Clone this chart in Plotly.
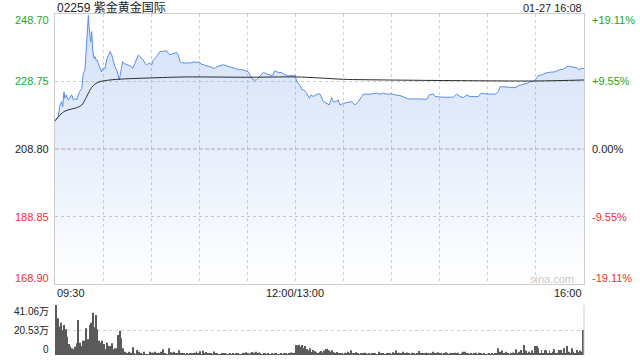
import plotly.graph_objects as go

# ---------------- data ----------------
title_text = "02259 紫金黄金国际"
stamp_text = "01-27 16:08"
price_ticks = [248.70, 228.75, 208.80, 188.85, 168.90]
price_tick_text = ["248.70", "228.75", "208.80", "188.85", "168.90"]
pct_tick_text = ["+19.11%", "+9.55%", "0.00%", "-9.55%", "-19.11%"]
tick_colors = ["#1ea51e", "#1ea51e", "#222222", "#f23030", "#f23030"]
time_labels = ["09:30", "12:00/13:00", "16:00"]
time_label_pos = [0, 150, 330]
vol_ticks = [41.06, 20.53, 0]
vol_tick_text = ["41.06万", "20.53万", "0"]

price_min = [
    0, 2.1, 3.1, 4.2, 4.8, 5.6, 6.2, 6.9, 8.3, 9.4,
    10.4, 11.4, 12.5, 13.5, 15.2, 16.7, 17.7, 18.7, 19.3, 20.1,
    20.8, 21.4, 22.3, 22.9, 23.5, 24.3, 25.0, 25.6, 26.4, 27.0,
    28.0, 29.0, 29.8, 31.2, 32.2, 33.3, 34.3, 35.4, 36.4, 37.4,
    38.5, 39.5, 40.1, 41.0, 41.6, 42.2, 43.0, 44.3, 45.7, 47.2,
    48.5, 49.9, 51.0, 52.0, 53.0, 54.1, 55.1, 56.1, 57.2, 58.2,
    59.3, 60.3, 61.3, 62.4, 63.4, 65.5, 67.6, 69.7, 70.7, 71.7,
    72.8, 73.8, 75.9, 76.9, 78.0, 79.0, 81.5, 85.3, 86.9, 88.4,
    89.8, 91.1, 93.6, 96.7, 99.4, 101.9, 105.0, 108.1, 111.2, 114.3,
    117.5, 120.6, 121.6, 122.7, 123.7, 125.8, 127.3, 130.0, 132.1, 134.1,
    135.6, 137.2, 139.3, 141.4, 143.5, 145.6, 147.7, 148.7, 149.7, 150.8,
    152.8, 153.9, 155.5, 157.0, 158.7, 159.7, 161.1, 162.6, 164.3, 165.3,
    167.4, 169.5, 171.1, 172.6, 173.6, 175.3, 176.7, 177.8, 179.9, 183.0,
    185.1, 187.1, 189.2, 191.3, 192.3, 196.5, 200.7, 202.7, 204.8, 206.9,
    210.0, 212.1, 215.2, 218.3, 220.4, 225.6, 231.9, 233.5, 236.0, 237.1,
    242.2, 248.5, 250.6, 252.6, 254.7, 256.8, 258.9, 264.1, 265.8, 268.2,
    274.5, 276.5, 277.6, 279.7, 282.8, 287.0, 289.0, 292.1, 294.3, 296.3,
    298.4, 300.5, 301.5, 303.6, 305.7, 308.8, 311.9, 314.0, 317.1, 320.2,
    322.4, 325.5, 326.9, 328.1, 330.0,
]
price_val = [
    217.1, 218.4, 221.8, 222.8, 221.3, 225.7, 223.8, 224.8, 223.3, 224.3,
    224.8, 223.3, 223.8, 223.3, 225.7, 226.7, 231.2, 232.2, 236.1, 244.0,
    248.3, 244.0, 240.5, 243.5, 238.1, 235.6, 236.1, 235.1, 235.1, 234.1,
    233.1, 231.6, 232.6, 232.6, 235.1, 236.6, 237.6, 236.6, 235.1, 233.1,
    232.2, 230.7, 229.2, 231.6, 233.6, 234.6, 234.1, 233.8, 233.6, 233.3,
    232.6, 234.1, 235.6, 236.6, 236.1, 235.6, 235.1, 234.1, 233.6, 234.1,
    234.1, 233.6, 235.1, 235.6, 236.1, 237.6, 237.6, 237.8, 237.1, 236.6,
    236.9, 237.1, 237.3, 236.6, 234.6, 234.3, 234.2, 234.3, 234.6, 234.3,
    234.6, 233.9, 233.6, 233.1, 232.6, 233.3, 233.7, 233.3, 232.9, 232.3,
    232.2, 231.6, 230.7, 229.7, 229.2, 229.2, 230.0, 231.5, 231.0, 230.7,
    230.4, 231.9, 231.4, 231.4, 230.7, 230.4, 230.6, 230.4, 230.7, 228.7,
    227.7, 226.4, 226.2, 225.3, 223.8, 224.8, 224.3, 224.8, 225.1, 225.0,
    222.8, 222.3, 221.8, 224.0, 222.7, 222.8, 223.3, 221.8, 222.3, 222.6,
    222.8, 221.8, 222.8, 224.3, 225.0, 225.0, 225.3, 225.0, 225.3, 225.0,
    225.1, 224.8, 224.6, 224.0, 223.6, 223.6, 223.5, 224.8, 225.0, 224.3,
    224.1, 224.1, 225.0, 224.3, 224.0, 224.8, 224.3, 224.3, 225.3, 225.1,
    225.0, 225.7, 227.2, 227.2, 227.0, 226.9, 227.5, 227.9, 228.2, 228.7,
    228.7, 229.7, 230.5, 230.7, 231.2, 231.5, 231.6, 232.1, 232.4, 233.3,
    233.1, 232.8, 232.1, 232.6, 232.6,
]

avg_min = [0, 3.1, 6.2, 9.4, 13.5, 16.7, 18.7, 20.8, 22.9, 25, 28, 34.3, 42.6,
           59.3, 82.2, 120, 150, 165, 180, 207, 253, 300, 330]
avg_val = [217.1, 218.9, 220.0, 220.5, 221.0, 221.8, 223.3, 225.3, 227.0, 228.0,
           228.7, 229.2, 229.5, 229.8, 230.1, 230.0, 230.1, 229.8, 229.4, 229.2,
           229.0, 228.9, 229.2]

# volume per minute, unit 万
volume = [
    41.06, 30.1, 23.3, 26.5, 20.5, 24.6, 21.1, 15.0, 9.0, 7.0,
    5.5, 4.7, 6.8, 9.6, 28.7, 10.1, 7.4, 11.7, 11.7, 21.9,
    12.9, 24.6, 26.5, 34.7, 22.7, 32.8, 21.1, 11.7, 10.1, 11.7,
    9.0, 4.7, 10.1, 7.4, 7.4, 9.6, 4.7, 5.5, 5.5, 16.4,
    20.0, 13.7, 5.5, 2.7, 1.9, 1.4,
    2.7, 1.9, 6.3, 1.0, 0.8, 4.1, 2.7, 1.0, 0.8, 2.7,
    0.8, 0.8, 0.8, 2.7, 1.9, 1.9, 2.7, 1.0, 1.9, 1.0,
    2.7, 4.7, 1.0, 0.8, 0.8, 5.5, 2.3, 1.9, 2.7, 1.2,
    1.2, 3.8, 1.0, 0.9, 1.5, 0.8, 1.1, 0.6, 1.4, 0.9,
    1.0, 1.8, 2.9, 1.2, 3.1, 0.8, 3.5, 1.6, 2.4, 1.0,
    0.9, 1.3, 0.7, 2.9, 1.5, 1.1, 0.8, 0.6, 1.0, 0.9,
    1.2, 0.7, 0.6, 1.0, 0.8, 1.4, 0.6, 0.9, 1.1, 0.7,
    0.8, 1.9, 1.1, 2.2, 1.0, 0.8, 1.3, 2.4, 1.9, 2.6,
    1.2, 2.1, 1.0, 0.8, 1.4, 0.9, 0.7, 1.0, 0.8, 1.2,
    0.7, 0.9, 1.1, 0.6, 0.8, 1.0, 0.7, 0.9, 1.2, 0.8,
    1.4, 2.0, 1.1, 1.6,
    8.2, 7.7, 8.5, 6.8, 8.2, 5.7, 7.4, 4.9, 3.6, 5.5,
    2.5, 4.2, 3.0, 2.2, 1.6,
    2.7, 3.3, 2.0, 3.6, 4.9, 5.2, 3.8, 2.6, 4.0, 2.2,
    1.4, 2.4, 1.0, 0.9, 1.3, 0.8, 1.9, 1.1, 2.7, 1.4,
    3.9, 1.5, 1.0, 2.2, 1.3, 0.7, 1.0, 0.9, 1.8, 1.2,
    0.8, 1.1, 0.7, 1.5, 1.0,
    1.4, 0.8, 2.6, 1.2, 0.9, 1.1, 0.7, 1.6, 0.9, 1.3,
    0.8, 2.2, 1.4, 3.7, 1.2, 1.8, 0.9, 2.7, 1.1, 1.0,
    2.0, 1.3, 0.8, 1.9, 1.2, 0.7, 1.4, 3.2, 1.1, 1.6,
    0.9, 1.2, 2.1, 1.0, 0.8, 1.5, 2.6, 1.3, 0.9, 2.2,
    1.1, 1.7, 0.8, 1.3, 2.3, 1.0, 0.7, 1.2, 0.9, 1.4,
    1.9, 1.0, 1.9, 0.8, 1.2, 2.7, 2.7, 1.4, 1.0, 0.8,
    1.2, 0.7, 1.0, 1.9, 0.8, 1.9, 0.9, 0.7, 1.1, 0.8,
    0.6, 1.0, 0.8, 1.2, 0.7, 0.9, 1.3,
    5.5, 2.7, 3.6, 1.0, 1.4, 2.7, 1.2, 0.8, 1.0, 2.0,
    1.2, 4.7, 1.0, 2.7, 4.1, 1.3, 8.2, 3.6, 1.4, 2.7,
    1.0, 3.6, 1.2, 7.4, 7.4, 5.5, 1.0, 4.1, 1.3, 4.1,
    3.6, 1.0, 3.6, 1.2, 2.7, 4.7, 1.0, 1.9, 4.1, 4.1,
    1.2, 5.5, 1.0, 7.4, 2.7, 1.0, 5.5, 2.7, 1.3, 4.1,
    2.2, 3.6, 2.7,
    20.5,
]
vol_min = list(range(len(volume)))
assert len(price_min) == len(price_val), (len(price_min), len(price_val))
assert len(avg_min) == len(avg_val)

# ---------------- layout geometry ----------------
W, H = 640, 360
L, R = 55, 584
T_MAIN, B_MAIN = 14, 284
T_VOL, B_VOL = 305, 355
FONT = "Liberation Sans, Arial, Noto Sans CJK SC, sans-serif"
GRID = "#cfcfcf"

def px(x):
    return x / W

def py(y):
    return 1 - y / H

fig = go.Figure()

fig.add_trace(go.Scatter(
    x=price_min, y=price_val, mode="lines",
    line=dict(color="#5b8fe6", width=1),
    fill="tozeroy",
    fillgradient=dict(type="vertical", start=168.90, stop=248.70,
                      colorscale=[[0, "rgba(91,143,230,0.0)"],
                                  [0.5, "rgba(91,143,230,0.15)"],
                                  [1, "rgba(91,143,230,0.27)"]]),
    xaxis="x", yaxis="y", hoverinfo="skip",
))
fig.add_trace(go.Scatter(
    x=avg_min, y=avg_val, mode="lines",
    line=dict(color="#2b2b2b", width=1, shape="spline", smoothing=0.8),
    xaxis="x", yaxis="y", hoverinfo="skip",
))
fig.add_trace(go.Bar(
    x=vol_min, y=volume, marker=dict(color="#5a5a5a", line=dict(width=0)),
    xaxis="x2", yaxis="y2", hoverinfo="skip",
))

fig.update_layout(
    width=W, height=H, margin=dict(l=0, r=0, t=0, b=0),
    paper_bgcolor="white", plot_bgcolor="white",
    showlegend=False, bargap=0.4,
    font=dict(family=FONT, size=11, color="#222"),
    xaxis=dict(domain=[px(L), px(R)], range=[0, 330], anchor="y",
               tickvals=list(range(30, 330, 30)), showticklabels=False,
               showgrid=True, gridcolor=GRID, griddash="dot", gridwidth=1,
               showline=True, linecolor="#cccccc", linewidth=1, mirror=True,
               zeroline=False, ticks=""),
    yaxis=dict(domain=[py(B_MAIN), py(T_MAIN)], range=[168.90, 248.70], anchor="x",
               tickvals=[188.85, 228.75], showticklabels=False,
               showgrid=True, gridcolor=GRID, griddash="dot", gridwidth=1,
               showline=True, linecolor="#cccccc", linewidth=1, mirror=True,
               zeroline=False, ticks=""),
    xaxis2=dict(domain=[px(L), px(R)], range=[-0.6, 330.6], anchor="y2",
                showticklabels=False, showgrid=False, zeroline=False,
                showline=False, ticks=""),
    yaxis2=dict(domain=[py(B_VOL), py(T_VOL)], range=[0, 41.06], anchor="x2",
                tickvals=[20.53, 41.06], showticklabels=False,
                showgrid=True, gridcolor=GRID, griddash="dot", gridwidth=1,
                zeroline=False, showline=False, ticks=""),
)

# previous close dashed line
fig.add_shape(type="line", xref="x", yref="y", x0=0, x1=330, y0=208.80, y1=208.80,
              line=dict(color="#a8a8a8", width=1, dash="4px,2px"))
# right border of volume pane
fig.add_shape(type="line", xref="x2 domain", yref="y2 domain", x0=1, x1=1, y0=0, y1=1,
              line=dict(color="#cccccc", width=1))

ann = []
shifts = [-6, 0, 0, 0, 6]
for v, t, p, c, s in zip(price_ticks, price_tick_text, pct_tick_text, tick_colors, shifts):
    ann.append(dict(x=px(51), xref="paper", y=v, yref="y", text=t, showarrow=False,
                    xanchor="right", yanchor="middle", yshift=s,
                    font=dict(size=11, color=c, family=FONT)))
    ann.append(dict(x=px(590), xref="paper", y=v, yref="y", text=p, showarrow=False,
                    xanchor="left", yanchor="middle", yshift=s,
                    font=dict(size=11, color=c, family=FONT)))

anchors = ["left", "center", "right"]
for t, m, a in zip(time_labels, time_label_pos, anchors):
    ann.append(dict(x=m, xref="x", y=py(293), yref="paper", text=t, showarrow=False,
                    xanchor=a, yanchor="middle", font=dict(size=11, color="#222", family=FONT)))

vshift = [-6, 0, 6]
for v, t, s in zip(vol_ticks, vol_tick_text, vshift):
    ann.append(dict(x=px(51), xref="paper", y=v, yref="y2", text=t, showarrow=False,
                    xanchor="right", yanchor="middle", yshift=s,
                    font=dict(size=10, color="#222", family=FONT)))

ann.append(dict(x=px(55), xref="paper", y=py(7.5), yref="paper", text=title_text,
                showarrow=False, xanchor="left", yanchor="middle",
                font=dict(size=12, color="#222", family=FONT)))
ann.append(dict(x=px(584), xref="paper", y=py(7.5), yref="paper", text=stamp_text,
                showarrow=False, xanchor="right", yanchor="middle",
                font=dict(size=11, color="#222", family=FONT)))
ann.append(dict(x=px(552), xref="paper", y=py(279), yref="paper", text="sina.com",
                showarrow=False, xanchor="center", yanchor="middle",
                font=dict(size=11, color="#c8c8c8", family=FONT)))

fig.update_layout(annotations=ann)

fig.write_html("out.html")
